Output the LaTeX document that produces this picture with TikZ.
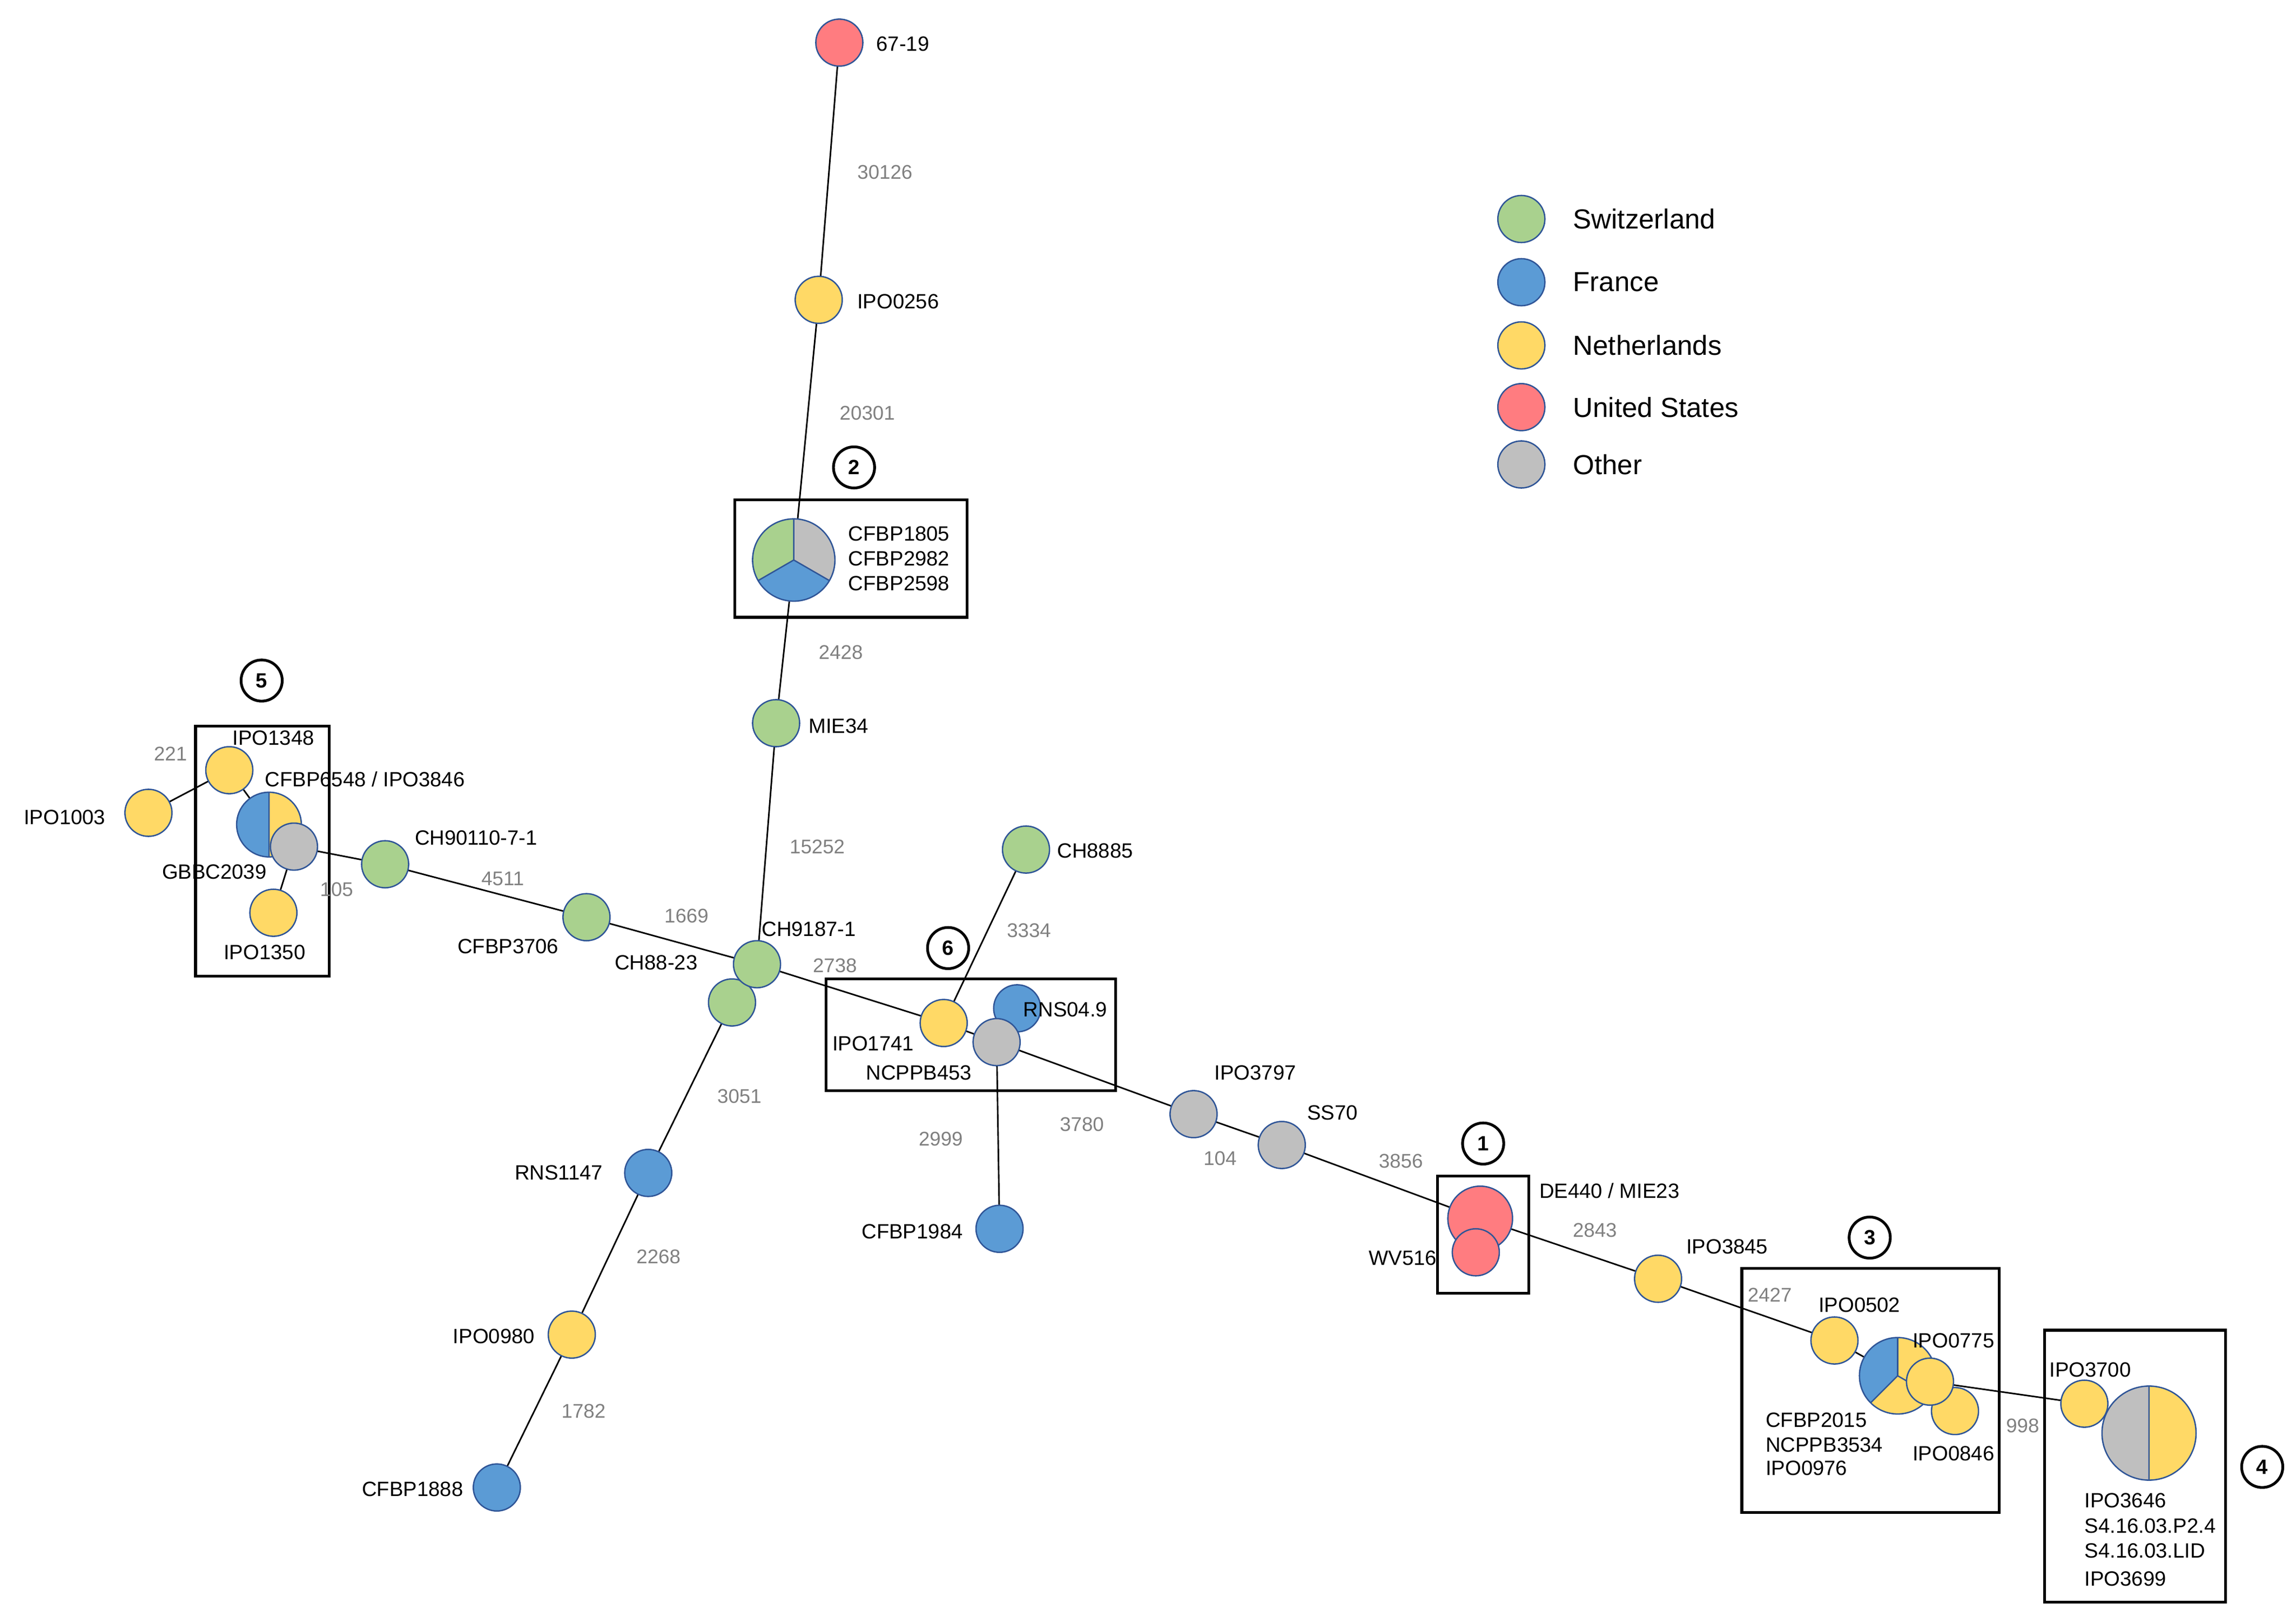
\documentclass[tikz,border=0pt]{standalone}
\usepackage{fontspec}
\setmainfont{Liberation Sans}
\begin{document}
\definecolor{cg}{HTML}{A9D18E}\definecolor{cb}{HTML}{5B9BD5}\definecolor{cy}{HTML}{FFD966}
\definecolor{cr}{HTML}{FF7C80}\definecolor{cx}{HTML}{BFBFBF}\definecolor{bd}{HTML}{2F5597}
\begin{tikzpicture}[x=0.03cm,y=-0.03cm,
 st/.style={circle,draw=bd,line width=0.8pt,minimum size=0.96cm,inner sep=0pt},
 lab/.style={font=\fontsize{12}{14}\selectfont,anchor=west,inner sep=0pt},
 num/.style={font=\fontsize{11.5}{14}\selectfont,text=black!50,inner sep=0pt},
 box/.style={draw,line width=1.6pt},
 tag/.style={circle,draw,line width=1.6pt,minimum size=0.84cm,inner sep=0pt,font=\bfseries\fontsize{12}{14}\selectfont},
 leg/.style={font=\fontsize{16}{19}\selectfont,anchor=west,inner sep=0pt},
 ed/.style={line width=0.9pt}]
\useasboundingbox (0,0) rectangle (1562,1100);
% coordinates of nodes
\coordinate (n6719) at (571,29);
\coordinate (nIPO0256) at (557,204);
\coordinate (p2) at (540,381);
\coordinate (nMIE34) at (528,492);
\coordinate (nCH9187) at (515,656);
\coordinate (nCH8823) at (498,682);
\coordinate (nCFBP3706) at (399,624);
\coordinate (nCH90110) at (262,588);
\coordinate (p5) at (183,561);
\coordinate (nGBBC) at (200,576);
\coordinate (nIPO1348) at (156,524);
\coordinate (nIPO1003) at (101,553);
\coordinate (nIPO1350) at (186,621);
\coordinate (nRNS1147) at (441,798);
\coordinate (nIPO0980) at (389,908);
\coordinate (nCFBP1888) at (338,1012);
\coordinate (nCH8885) at (698,578);
\coordinate (nIPO1741) at (642,696);
\coordinate (nRNS049) at (692,686);
\coordinate (nNCPPB453) at (678,709);
\coordinate (nCFBP1984) at (680,836);
\coordinate (nIPO3797) at (812,758);
\coordinate (nSS70) at (872,779);
\coordinate (nDE440) at (1007,829);
\coordinate (nWV516) at (1004,852);
\coordinate (nIPO3845) at (1128,870);
\coordinate (nIPO0502) at (1248,912);
\coordinate (p3) at (1291,936);
\coordinate (nIPO0846) at (1330,960);
\coordinate (nIPO0775) at (1313,940);
\coordinate (nIPO3700) at (1418,955);
\coordinate (p4) at (1462,975);
% edges
\draw[ed] (n6719)--(nIPO0256)--(p2)--(nMIE34)--(nCH9187);
\draw[ed] (nGBBC)--(nCH90110)--(nCFBP3706)--(nCH9187)--(nIPO1741)--(nNCPPB453)--(nIPO3797)--(nSS70)--(nDE440)--(nIPO3845)--(nIPO0502)--(p3);
\draw[ed] (nIPO0775)--(nIPO3700);
\draw[ed] (nCH8823)--(nRNS1147)--(nIPO0980)--(nCFBP1888);
\draw[ed] (nCH8885)--(nIPO1741);
\draw[ed] (nNCPPB453)--(nCFBP1984);
\draw[ed] (nIPO1003)--(nIPO1348)--(p5);
\draw[ed] (nGBBC)--(nIPO1350);
% boxes
\draw[box] (500,340) rectangle (658,420);
\draw[box] (133,494) rectangle (224,664);
\draw[box] (562,666) rectangle (759,742);
\draw[box] (978,800) rectangle (1040,880);
\draw[box] (1185,863) rectangle (1360,1029);
\draw[box] (1391,905) rectangle (1514,1090);
% pies (radius in cm)
\def\pie#1#2#3#4#5{\fill[#5] (#1) -- ++(#3:#2) arc[start angle=#3,end angle=#4,radius=#2] -- cycle;}
\pie{p2}{0.84cm}{-30}{90}{cx}\pie{p2}{0.84cm}{-150}{-30}{cb}\pie{p2}{0.84cm}{90}{210}{cg}
\draw[bd,line width=0.8pt] (p2) circle[radius=0.84cm] (p2)--++(90:0.84cm) (p2)--++(-30:0.84cm) (p2)--++(-150:0.84cm);
\pie{p5}{0.66cm}{90}{270}{cb}\pie{p5}{0.66cm}{-90}{90}{cy}
\draw[bd,line width=0.8pt] (p5) circle[radius=0.66cm] (p5)++(90:0.66cm)--++(-90:1.32cm);
\pie{p3}{0.78cm}{90}{225}{cb}\pie{p3}{0.78cm}{-135}{90}{cy}
\draw[bd,line width=0.8pt] (p3) circle[radius=0.78cm] (p3)--++(90:0.78cm) (p3)--++(225:0.78cm) (p3)--++(-30:0.6cm);
\pie{p4}{0.96cm}{90}{270}{cx}\pie{p4}{0.96cm}{-90}{90}{cy}
\draw[bd,line width=0.8pt] (p4) circle[radius=0.96cm] (p4)++(90:0.96cm)--++(-90:1.92cm);
% single circles
\node[st,fill=cr] (a6719) at (n6719) {};
\node[st,fill=cy] at (nIPO0256) {};
\node[st,fill=cg] at (nMIE34) {};
\node[st,fill=cg] at (nCH8823) {};
\node[st,fill=cg] at (nCH9187) {};
\node[st,fill=cg] at (nCFBP3706) {};
\node[st,fill=cg] at (nCH90110) {};
\node[st,fill=cx] at (nGBBC) {};
\node[st,fill=cy] at (nIPO1348) {};
\node[st,fill=cy] at (nIPO1003) {};
\node[st,fill=cy] at (nIPO1350) {};
\node[st,fill=cb] at (nRNS1147) {};
\node[st,fill=cy] at (nIPO0980) {};
\node[st,fill=cb] at (nCFBP1888) {};
\node[st,fill=cg] at (nCH8885) {};
\node[st,fill=cb] at (nRNS049) {};
\node[st,fill=cy] at (nIPO1741) {};
\node[st,fill=cx] at (nNCPPB453) {};
\node[st,fill=cb] at (nCFBP1984) {};
\node[st,fill=cx] at (nIPO3797) {};
\node[st,fill=cx] at (nSS70) {};
\node[st,fill=cr,minimum size=1.32cm] at (nDE440) {};
\node[st,fill=cr] at (nWV516) {};
\node[st,fill=cy] at (nIPO3845) {};
\node[st,fill=cy] at (nIPO0502) {};
\node[st,fill=cy] at (nIPO0846) {};
\node[st,fill=cy] at (nIPO0775) {};
\node[st,fill=cy] at (nIPO3700) {};
% labels
\node[lab] at (596,30) {67-19};
\node[lab] at (583,205) {IPO0256};
\node[lab] at (577,363) {CFBP1805};
\node[lab] at (577,380) {CFBP2982};
\node[lab] at (577,397) {CFBP2598};
\node[lab] at (550,494) {MIE34};
\node[lab] at (518,632) {CH9187-1};
\node[lab] at (418,655) {CH88-23};
\node[lab] at (311,644) {CFBP3706};
\node[lab] at (282,570) {CH90110-7-1};
\node[lab] at (180,530) {CFBP6548 / IPO3846};
\node[lab] at (158,502) {IPO1348};
\node[lab] at (16,556) {IPO1003};
\node[lab] at (110,593) {GBBC2039};
\node[lab] at (152,648) {IPO1350};
\node[lab] at (350,798) {RNS1147};
\node[lab] at (308,909) {IPO0980};
\node[lab] at (246,1013) {CFBP1888};
\node[lab] at (719,579) {CH8885};
\node[lab] at (566,710) {IPO1741};
\node[lab] at (696,687) {RNS04.9};
\node[lab] at (589,730) {NCPPB453};
\node[lab] at (586,838) {CFBP1984};
\node[lab] at (826,730) {IPO3797};
\node[lab] at (889,757) {SS70};
\node[lab] at (1047,810) {DE440 / MIE23};
\node[lab] at (931,856) {WV516};
\node[lab] at (1147,848) {IPO3845};
\node[lab] at (1237,888) {IPO0502};
\node[lab] at (1301,912) {IPO0775};
\node[lab] at (1201,966) {CFBP2015};
\node[lab] at (1201,983) {NCPPB3534};
\node[lab] at (1201,999) {IPO0976};
\node[lab] at (1301,989) {IPO0846};
\node[lab] at (1394,932) {IPO3700};
\node[lab] at (1418,1021) {IPO3646};
\node[lab] at (1418,1038) {S4.16.03.P2.4};
\node[lab] at (1418,1055) {S4.16.03.LID};
\node[lab] at (1418,1074) {IPO3699};
% edge weights
\node[num] at (602,117) {30126};
\node[num] at (590,281) {20301};
\node[num] at (572,444) {2428};
\node[num] at (556,576) {15252};
\node[num] at (467,623) {1669};
\node[num] at (342,598) {4511};
\node[num] at (229,605) {105};
\node[num] at (116,513) {221};
\node[num] at (568,657) {2738};
\node[num] at (700,633) {3334};
\node[num] at (503,746) {3051};
\node[num] at (448,855) {2268};
\node[num] at (397,960) {1782};
\node[num] at (640,775) {2999};
\node[num] at (736,765) {3780};
\node[num] at (830,788) {104};
\node[num] at (953,790) {3856};
\node[num] at (1085,837) {2843};
\node[num] at (1204,881) {2427};
\node[num] at (1376,970) {998};
% group tags
\node[tag,fill=white] at (581,318) {2};
\node[tag,fill=white] at (178,463) {5};
\node[tag,fill=white] at (645,645) {6};
\node[tag,fill=white] at (1009,778) {1};
\node[tag,fill=white] at (1272,842) {3};
\node[tag,fill=white] at (1539,998) {4};
% legend
\node[st,fill=cg] (l1) at (1035,149) {}; \node[leg] at (1070,149) {Switzerland};
\node[st,fill=cb] (l2) at (1035,192) {}; \node[leg] at (1070,192) {France};
\node[st,fill=cy] (l3) at (1035,235) {}; \node[leg] at (1070,235) {Netherlands};
\node[st,fill=cr] (l4) at (1035,277) {}; \node[leg] at (1070,277) {United States};
\node[st,fill=cx] (l5) at (1035,316) {}; \node[leg] at (1070,316) {Other};
\end{tikzpicture}
\end{document}
